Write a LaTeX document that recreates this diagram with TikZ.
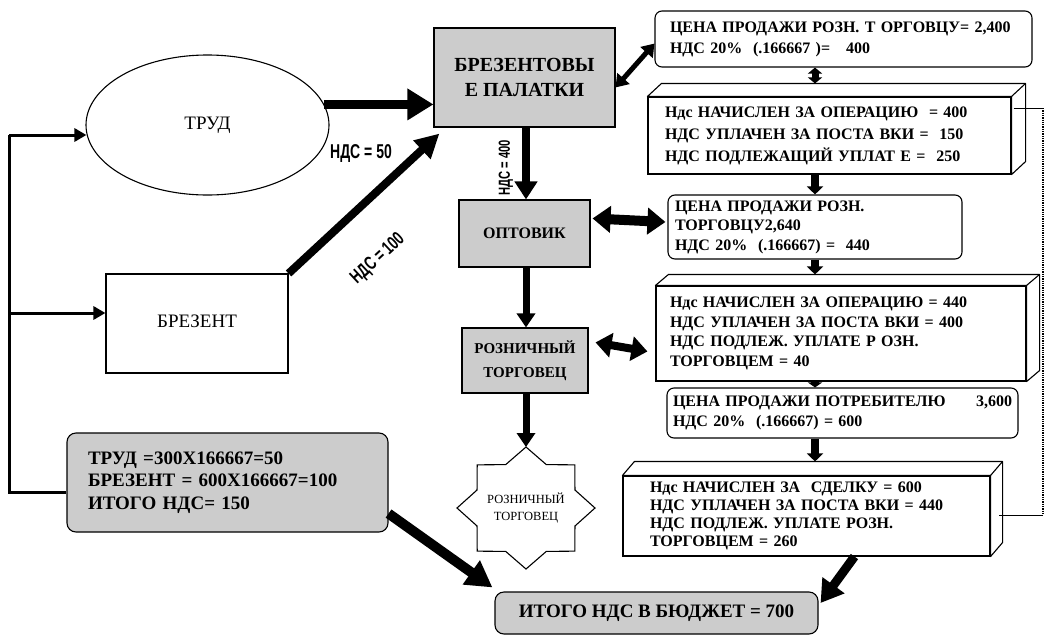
\documentclass[tikz,border=0pt]{standalone}
\usepackage{fontspec}
\setmainfont{Liberation Serif}
\newfontfamily\lblfont[FakeStretch=0.7]{Liberation Sans}
\usetikzlibrary{arrows.meta,calc,shapes.geometric}
\newcommand\boxthreed[3]{%
  \draw[line width=1.1pt, fill=white, line join=round] (#1.north west) -- ++(#2,#3) -- ($(#1.north east)+(#2,#3)$) -- ($(#1.south east)+(#2,#3)$) -- (#1.south east) -- (#1.north east) -- cycle;
  \draw[line width=1.1pt] (#1.north east) -- ++(#2,#3);}
\begin{document}
\begin{tikzpicture}[x=1pt,y=-1pt,
  graybox/.style={draw, line width=1.1pt, fill=black!20, inner sep=0pt, align=center},
  rbox/.style={draw, line width=1.1pt, rounded corners=7pt, fill=white, align=left, inner ysep=0pt},
  fbox/.style={draw, line width=1.1pt, fill=white, align=left, inner ysep=0pt},
  lbl/.style={font=\lblfont\bfseries\fontsize{#1}{22}\selectfont, inner sep=0pt},
  rfont/.style={font=\bfseries\fontsize{16}{#1}\selectfont},
  bkarrow/.style={line width=3pt, -{Triangle[length=12pt,width=13pt]}},
  downarrow/.style={line width=8pt, -{Triangle[length=8pt,width=16pt]}}
]
\useasboundingbox (0,0) rectangle (1049,637);

% left part
\node[ellipse, draw, line width=1.1pt, minimum width=243pt, minimum height=140pt, inner sep=0pt, font=\fontsize{19}{22}\selectfont] (trud) at (207.5,125) {ТРУД};
\node[draw, line width=1.1pt, minimum width=182pt, minimum height=99pt, font=\fontsize{19}{22}\selectfont] (brez) at (197,323.5) {\raisebox{5pt}{БРЕЗЕНТ}};
\node[graybox, rounded corners=9pt, minimum height=99pt, text width=279pt, inner xsep=21pt, align=left, font=\bfseries\fontsize{19}{22.5}\selectfont] (sum) at (227.5,482.5) {ТРУД =300Х166667=50\\БРЕЗЕНТ = 600Х166667=100\\ИТОГО НДС= 150};

% middle column
\node[graybox, minimum width=181pt, minimum height=99pt, font=\bfseries\fontsize{20}{25}\selectfont] (pal) at (524.5,77.5) {БРЕЗЕНТОВЫ\\Е ПАЛАТКИ};
\node[graybox, minimum width=131pt, minimum height=67pt, font=\bfseries\fontsize{16}{20}\selectfont] (opt) at (524.5,233.5) {ОПТОВИК};
\node[graybox, minimum width=126pt, minimum height=65pt, font=\bfseries\fontsize{15}{24}\selectfont] (rozn) at (525,360.5) {РОЗНИЧНЫЙ\\ТОРГОВЕЦ};
\coordinate (sc) at (526,508);
\draw[line width=1.1pt, line join=miter] ($(sc)+(90:69pt and 61pt)$)
  \foreach \a in {0,45,...,315} { -- ($(sc)+({\a+112.5}:53pt and 47pt)$) -- ($(sc)+({\a+135}:69pt and 61pt)$) } -- cycle;
\coordinate (startop) at ($(sc)+(0,-61)$);
\node[font=\fontsize{12.5}{17}\selectfont, align=center] (star) at (sc) {РОЗНИЧНЫЙ\\ТОРГОВЕЦ};
\node[graybox, rounded corners=9pt, minimum width=323pt, minimum height=42pt, font=\bfseries\fontsize{19}{22}\selectfont] (fin) at (656.5,613) {ИТОГО НДС В БЮДЖЕТ = 700};

% right column
\node[rbox, rfont=21, text width=347pt, inner xsep=15pt, minimum height=56pt] (r1) at (843.5,39) {ЦЕНА ПРОДАЖИ РОЗН. Т ОРГОВЦУ= 2,400\\НДС 20\%\ \ (.166667 )=\ \ \ 400};
\node[fbox, rfont=22, text width=329pt, inner xsep=17pt, minimum height=77pt] (r2) at (829.5,135.5) {Ндс НАЧИСЛЕН ЗА ОПЕРАЦИЮ\ \ = 400\\НДС УПЛАЧЕН ЗА ПОСТА ВКИ =\ \ 150\\НДС ПОДЛЕЖАЩИЙ УПЛАТ Е =\ \ 250};
\boxthreed{r2}{14}{-13}
\node[rbox, rfont=19.5, text width=280pt, inner xsep=7pt, minimum height=64pt] (r3) at (815,227) {ЦЕНА ПРОДАЖИ РОЗН.\\ТОРГОВЦУ2,640\\НДС 20\%\ \ (.166667) =\ \ 440};
\node[fbox, rfont=19.5, text width=342pt, inner xsep=14pt, minimum height=95pt] (r4) at (841,333.5) {Ндс НАЧИСЛЕН ЗА ОПЕРАЦИЮ = 440\\НДС УПЛАЧЕН ЗА ПОСТА ВКИ = 400\\НДС ПОДЛЕЖ. УПЛАТЕ Р ОЗН.\\ТОРГОВЦЕМ = 40};
\boxthreed{r4}{13}{-11}
\node[rbox, rfont=20, text width=339pt, inner xsep=6pt, minimum height=50pt] (r5) at (842.5,413) {ЦЕНА ПРОДАЖИ ПОТРЕБИТЕЛЮ\hfill 3,600\\НДС 20\%\ \ (.166667) = 600};
\node[fbox, rfont=18, text width=313pt, inner xsep=27pt, minimum height=80pt] (r6) at (806.5,516) {Ндс НАЧИСЛЕН ЗА\ \ СДЕЛКУ = 600\\НДС УПЛАЧЕН ЗА ПОСТА ВКИ = 440\\НДС ПОДЛЕЖ. УПЛАТЕ РОЗН.\\ТОРГОВЦЕМ = 260};
\boxthreed{r6}{12}{-14}

% left bracket
\coordinate (bk1) at (9,135);
\coordinate (bk2) at (9,313);
\coordinate (bk3) at (9,492);
\draw[line width=3pt] (bk1) -- (bk3) -- (sum.west |- bk3);
\draw[bkarrow] (bk1) -- ($(trud.west)+(1,10)$);
\draw[bkarrow] (bk2) -- (bk2 -| brez.west);

% thick arrows
\draw[line width=9pt, -{Triangle[length=26pt,width=30pt]}] (trud.10) -- (trud.10 -| pal.west);
\draw[line width=8pt, -{Triangle[length=24pt,width=24pt]}] (brez.north east) -- ($(pal.south west)+(6,6)$);
\coordinate (mx) at (526,0);
\draw[line width=8pt, -{Triangle[length=18pt,width=22pt]}] (pal.south -| mx) -- (opt.north -| mx);
\draw[line width=7pt, -{Triangle[length=14pt,width=18pt]}] (opt.south -| mx) -- (rozn.north -| mx);
\draw[line width=7pt, -{Triangle[length=14pt,width=18pt]}] (rozn.south -| mx) -- (startop);
\draw[line width=10pt, -{Triangle[length=26pt,width=28pt]}] ($(sum.south east)+(0,-19)$) -- ($(fin.north west)+(-2,-4)$);
\draw[line width=9pt, -{Triangle[length=22pt,width=26pt]}] ($(r6.south west)+(232,0)$) -- ($(fin.east)+(2,-10)$);

% double arrows
\draw[line width=5pt, {Triangle[length=12pt,width=16pt]}-{Triangle[length=12pt,width=16pt]}] ($(pal.north east)+(0,60)$) -- ($(r1.south west)+(0,-24)$);
\draw[line width=10pt, {Triangle[length=18pt,width=26pt]}-{Triangle[length=18pt,width=26pt]}] ($(opt.north east)+(2,19)$) -- ($(r3.west)+(-2,-5)$);
\draw[line width=8pt, {Triangle[length=16pt,width=24pt]}-{Triangle[length=16pt,width=24pt]}] ($(rozn.north east)+(7,15)$) -- ($(r4.north west)+(-8,66)$);

% right column arrows
\coordinate (cx) at (815,0);
\draw[line width=7pt, {Triangle[length=6pt,width=14pt]}-{Triangle[length=6pt,width=14pt]}] (r1.south -| cx) -- ($(r2.north -| cx)+(0,-13)$);
\draw[downarrow] (r2.south -| cx) -- (r3.north -| cx);
\draw[downarrow] (r3.south -| cx) -- ($(r4.north -| cx)+(0,-11)$);
\draw[line width=8pt, -{Triangle[length=5pt,width=14pt]}] (r4.south -| cx) -- (r5.north -| cx);
\draw[downarrow] (r5.south -| cx) -- ($(r6.north -| cx)+(0,-14)$);

% dotted link
\coordinate (dt1) at (1043,108);
\coordinate (dt2) at (1043,515);
\draw[line width=1pt] ($(r2.east |- dt1)+(2,0)$) -- (dt1);
\draw[line width=1.3pt, densely dotted] (dt1) -- (dt2);
\draw[line width=1pt] (dt2) -- ($(r6.east |- dt2)+(8,0)$);

% labels
\node[lbl=20] (l50) at (361,154) {НДС = 50};
\node[lbl=19, rotate=43] (l100) at (378,259) {НДС = 100};
\node[lbl=16, rotate=90] (l400) at (506,168) {НДС = 400};
\end{tikzpicture}
\end{document}
